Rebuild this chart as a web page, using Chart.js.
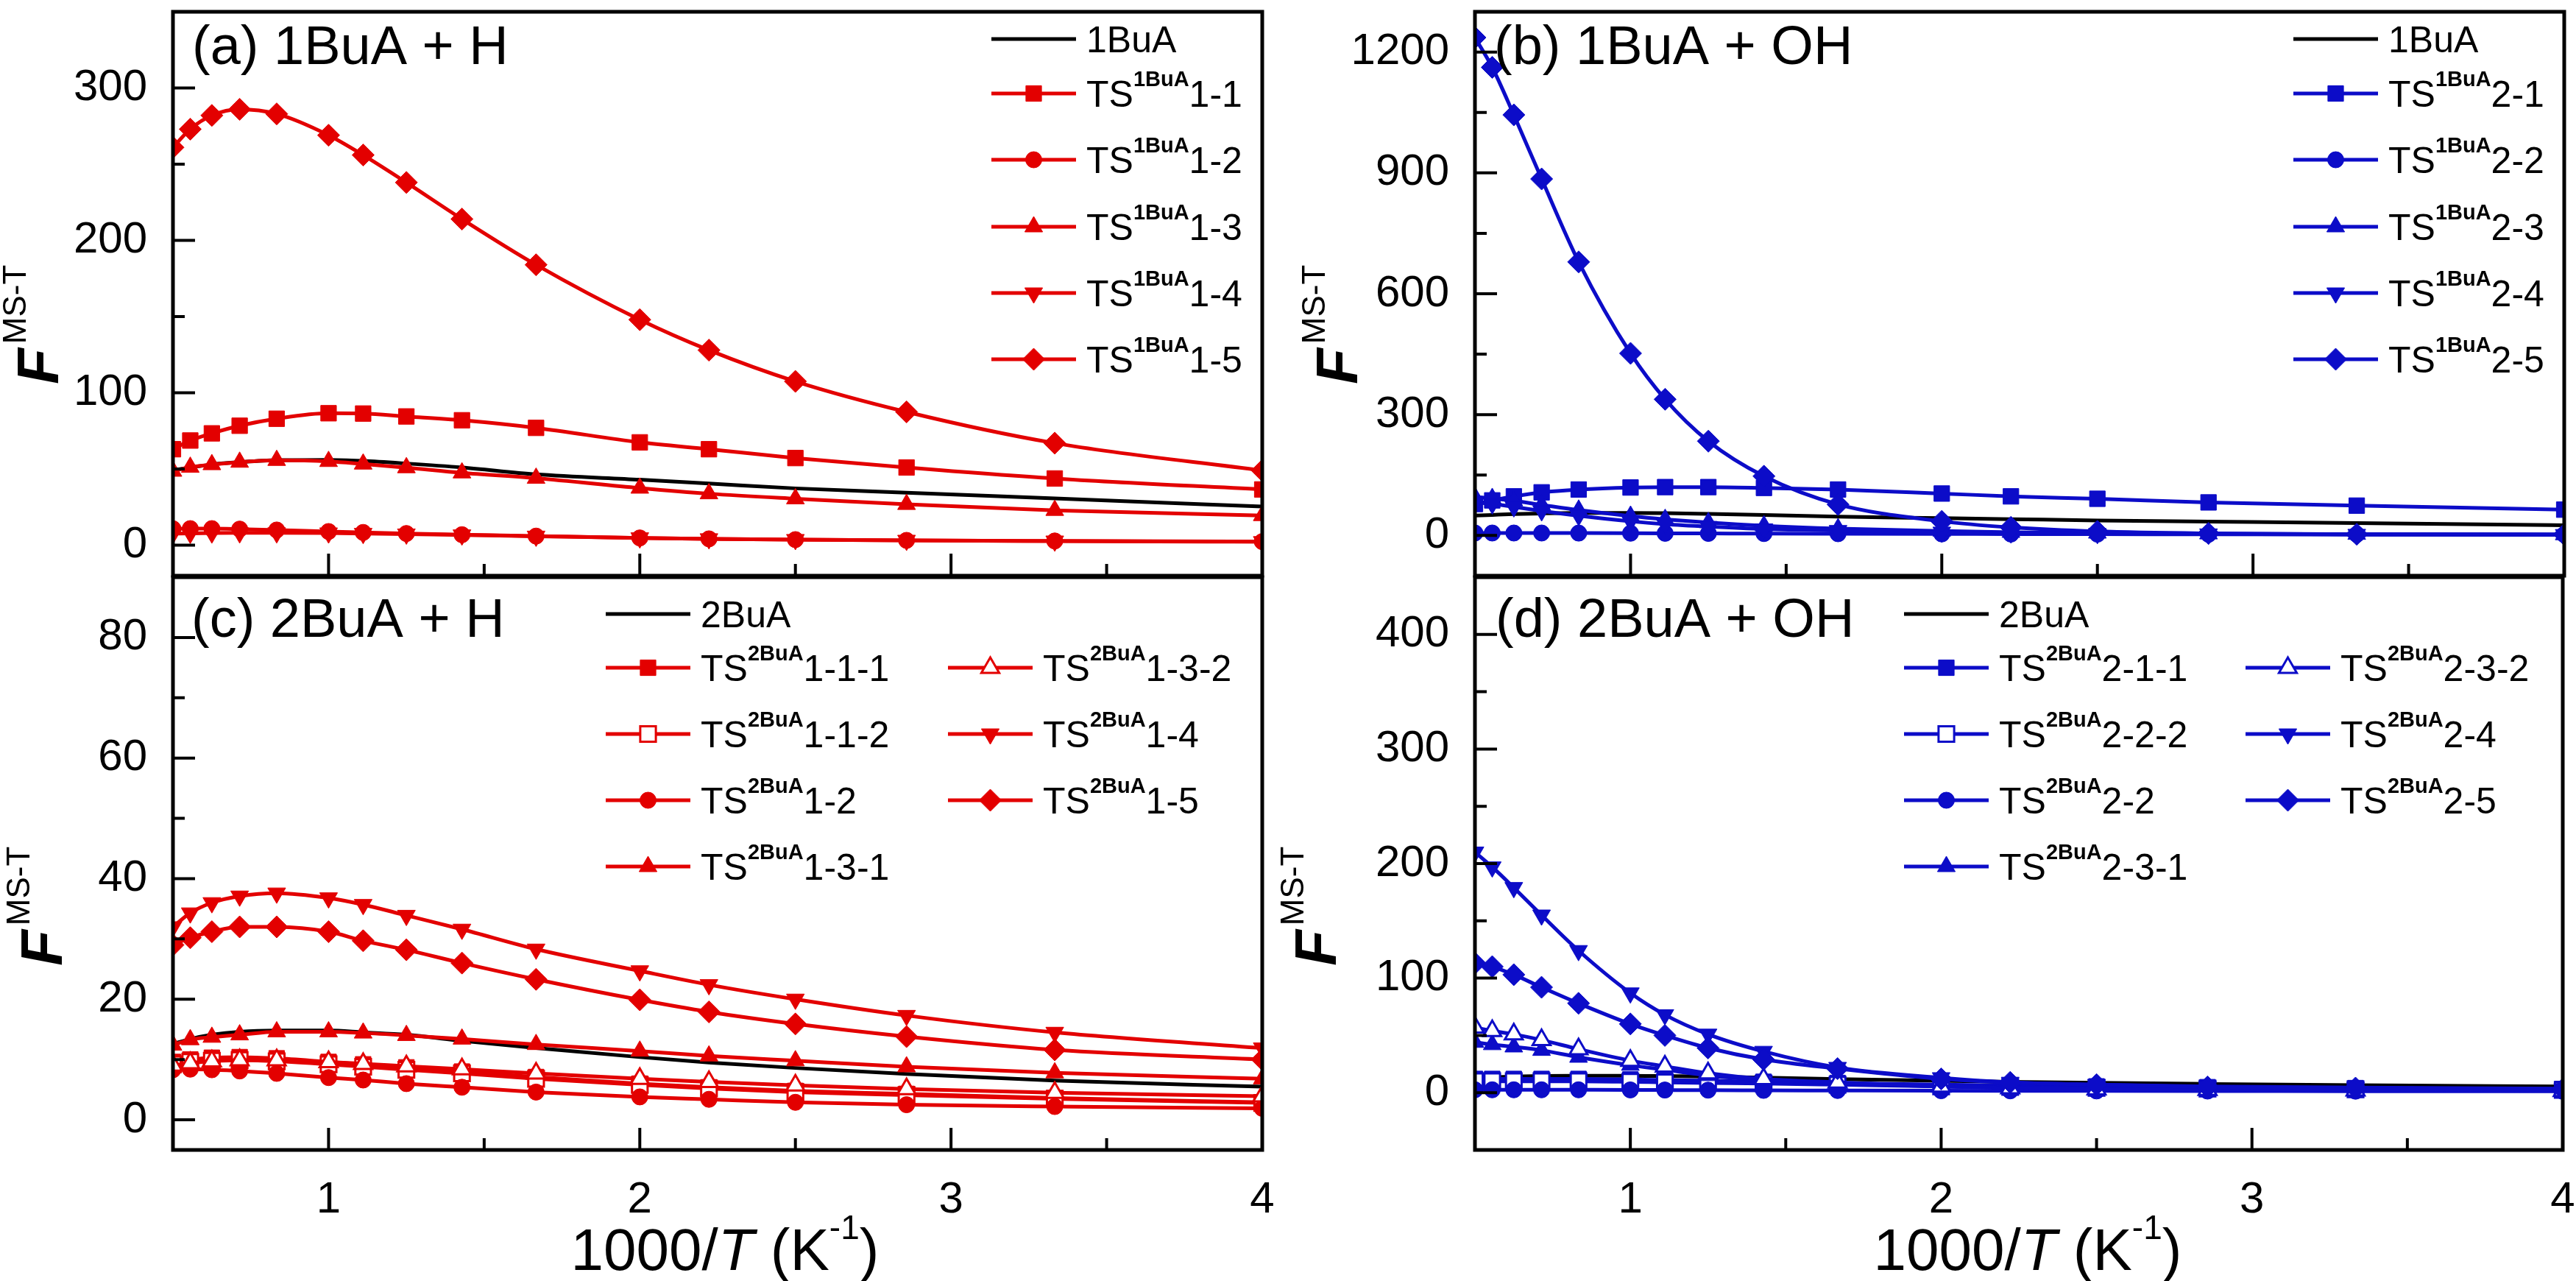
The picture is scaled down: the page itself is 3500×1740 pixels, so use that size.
<!DOCTYPE html>
<html>
<head>
<meta charset="utf-8">
<title>F MS-T panels</title>
<script src="https://cdn.jsdelivr.net/npm/chart.js@4.4.1/dist/chart.umd.min.js"></script>
<style>
  html, body { margin: 0; padding: 0; background: #ffffff; }
  body { width: 3500px; height: 1740px; position: relative; overflow: hidden; }
  canvas { position: absolute; left: 0; top: 0; }
</style>
</head>
<body>
<canvas id="pa" width="3500" height="1740"></canvas>
<canvas id="pb" width="3500" height="1740"></canvas>
<canvas id="pc" width="3500" height="1740"></canvas>
<canvas id="pd" width="3500" height="1740"></canvas>
<script>
// ================= DATA =================
const xValues = [0.5, 0.5556, 0.625, 0.7143, 0.8333, 1.0, 1.1111, 1.25, 1.4286, 1.6667, 2.0, 2.2222, 2.5, 2.8571, 3.3333, 4.0];
const xTicks = [1, 2, 3, 4];
const xTickLabels = ['1', '2', '3', '4'];
const xMinorTicks = [1.5, 2.5, 3.5];

const aYTicks = [0, 100, 200, 300];
const aYTickLabels = ['0', '100', '200', '300'];
const aYMinor = [50, 150, 250];
const bYTicks = [0, 300, 600, 900, 1200];
const bYTickLabels = ['0', '300', '600', '900', '1200'];
const bYMinor = [150, 450, 750, 1050];
const cYTicks = [0, 20, 40, 60, 80];
const cYTickLabels = ['0', '20', '40', '60', '80'];
const cYMinor = [10, 30, 50, 70];
const dYTicks = [0, 100, 200, 300, 400];
const dYTickLabels = ['0', '100', '200', '300', '400'];
const dYMinor = [50, 150, 250, 350];

// reactants (same in both panels of a row)
const ref1BuA = [49.3, 51, 53, 54.5, 55.8, 56, 55.3, 53.6, 51, 46.5, 43, 40.5, 37.3, 34.5, 30.7, 25.4];
const ref2BuA = [12.6, 13.4, 14.1, 14.6, 14.8, 14.8, 14.5, 14.1, 13.1, 11.9, 10.4, 9.5, 8.6, 7.6, 6.5, 5.5];

// (a) 1BuA + H
const a_TS1_1 = [63, 68.7, 73.4, 78.4, 83, 86.6, 86.4, 84.5, 82, 77, 67.5, 63, 57.2, 51, 43.8, 36.6];
const a_TS1_2 = [10.8, 10.9, 10.9, 10.6, 10.0, 9.0, 8.4, 7.7, 6.9, 6.0, 4.8, 4.2, 3.7, 3.2, 2.8, 2.4];
const a_TS1_3 = [48.6, 51.2, 52.9, 54.5, 55.7, 55, 53.3, 50.9, 47.5, 44, 37.5, 33.8, 30.5, 26.8, 22.9, 19.5];
const a_TS1_4 = [7.6, 7.8, 8.0, 8.1, 8.1, 8.0, 7.7, 7.3, 6.7, 5.9, 4.8, 4.2, 3.7, 3.2, 2.7, 2.3];
const a_TS1_5 = [261, 273, 282, 286, 283, 269, 256, 238, 214, 184, 148, 128, 107.5, 87.5, 67, 49];

// (b) 1BuA + OH
const b_TS2_1 = [78, 87, 97, 107, 114, 119, 120, 120, 118, 114, 104, 97, 91, 82, 74, 64];
const b_TS2_2 = [6, 6, 6, 6, 5.8, 5.5, 5.3, 5, 4.6, 4.2, 3.7, 3.4, 3.1, 2.8, 2.5, 2.1];
const b_TS2_3 = [95, 92, 86, 76, 63, 48, 40, 32, 24, 17, 11, 8, 6, 4, 3, 2];
const b_TS2_4 = [82, 78, 71, 61, 49, 35, 28, 22, 16, 12, 8, 6, 4.5, 3.5, 2.5, 2];
const b_TS2_5 = [1236, 1162, 1044, 885, 679, 452, 338, 234, 147, 77, 35, 20, 10, 5, 3, 2.5];

// (c) 2BuA + H
const c_TS1_1_1 = [9.6, 10.0, 10.3, 10.4, 10.2, 9.6, 9.2, 8.7, 8.0, 7.1, 6.0, 5.4, 4.8, 4.3, 3.6, 2.9];
const c_TS1_1_2 = [9.2, 9.6, 9.8, 9.9, 9.7, 9.2, 8.8, 8.3, 7.7, 6.8, 5.8, 5.2, 4.6, 4.1, 3.5, 2.8];
const c_TS1_2 = [8.3, 8.4, 8.3, 8.1, 7.7, 7.0, 6.6, 6.0, 5.4, 4.6, 3.8, 3.4, 2.9, 2.5, 2.2, 1.9];
const c_TS1_3_1 = [12.4, 13.3, 13.7, 14.1, 14.6, 14.6, 14.4, 14.0, 13.4, 12.5, 11.4, 10.6, 9.8, 8.8, 7.8, 6.8];
const c_TS1_3_2 = [9.0, 9.4, 9.7, 9.9, 9.9, 9.6, 9.3, 8.9, 8.4, 7.7, 6.8, 6.3, 5.7, 5.1, 4.5, 3.9];
const c_TS1_4 = [32, 34.3, 36, 37.1, 37.6, 36.8, 35.7, 33.9, 31.6, 28.3, 24.7, 22.4, 20, 17.3, 14.5, 11.9];
const c_TS1_5 = [29, 30.2, 31.2, 32, 32, 31.2, 29.7, 28.2, 26, 23.3, 19.9, 17.9, 15.9, 13.8, 11.6, 10.0];

// (d) 2BuA + OH
const d_TS2_1_1 = [12, 12, 12, 12, 12, 11.5, 11, 10.5, 9.5, 8.5, 7, 6.3, 5.5, 4.8, 4, 3.2];
const d_TS2_2_2 = [10, 10, 10, 10, 10, 9.5, 9, 8.5, 8, 7, 5.5, 5, 4.2, 3.6, 3, 2.4];
const d_TS2_2 = [2.5, 2.5, 2.5, 2.5, 2.5, 2.4, 2.3, 2.2, 2.0, 1.9, 1.7, 1.6, 1.5, 1.4, 1.3, 1.2];
const d_TS2_3_1 = [44, 42, 40, 37, 31, 24, 20, 15, 11, 8, 5.5, 4.5, 3.5, 3, 2.5, 2];
const d_TS2_3_2 = [57, 54, 51, 46, 38, 28, 23, 17, 12, 9, 5.5, 4, 3, 2.5, 2, 1.5];
const d_TS2_4 = [210, 197, 179, 155, 124, 87, 68, 51, 36, 22, 13, 9, 7, 5.5, 4.5, 3.5];
const d_TS2_5 = [113, 110, 103, 92, 78, 60, 50, 39, 29, 21, 12, 9, 7, 5, 4, 3];

// ================= STYLE =================
const FAM = '"Liberation Sans", Arial, Helvetica, sans-serif';
const RED = '#E30000';
const BLUE = '#0C0CC8';
const BLACK = '#000000';
const LINE_W = 5;
const MK = {
  none:    { pointStyle: false, radius: 0, rotation: 0 },
  square:  { pointStyle: 'rect', radius: 15, rotation: 0 },
  circle:  { pointStyle: 'circle', radius: 11, rotation: 0 },
  up:      { pointStyle: 'triangle', radius: 14, rotation: 0 },
  down:    { pointStyle: 'triangle', radius: 14, rotation: 180 },
  diamond: { pointStyle: 'rectRot', radius: 15, rotation: 0 }
};
const YW = 200, XH = 150;

function f(size, style) { return (style || '') + ' ' + size + 'px ' + FAM; }

function drawRich(ctx, x, y, parts) {
  let cx = x;
  for (const p of parts) {
    ctx.font = p.font;
    ctx.fillText(p.text, cx, y + (p.dy || 0));
    cx += ctx.measureText(p.text).width + (p.gap || 0);
  }
  return cx - x;
}
function richWidth(ctx, parts) {
  let w = 0;
  for (const p of parts) { ctx.font = p.font; w += ctx.measureText(p.text).width + (p.gap || 0); }
  return w;
}
function legendParts(item) {
  if (!item.sup) return [{ text: item.pre, font: f(50) }];
  return [
    { text: item.pre, font: f(50) },
    { text: item.sup, font: f(29, 'bold'), dy: -28 },
    { text: item.post, font: f(50) }
  ];
}
function markerDraw(ctx, mk, color, open, x, y) {
  if (!mk.pointStyle) return;
  ctx.save();
  ctx.fillStyle = open ? '#ffffff' : color;
  ctx.strokeStyle = color;
  ctx.lineWidth = open ? 3 : 1;
  Chart.helpers.drawPoint(ctx, { pointStyle: mk.pointStyle, radius: mk.radius, rotation: mk.rotation, borderWidth: open ? 3 : 1 }, x, y);
  ctx.restore();
}

const decorPlugin = {
  id: 'decor',
  afterDraw(chart) {
    const p = chart.options.plugins.decor;
    const { ctx, chartArea: ca } = chart;
    const xs = chart.scales.x, ys = chart.scales.y;
    ctx.save();
    // inward ticks
    ctx.strokeStyle = BLACK;
    ctx.lineWidth = 4;
    ctx.beginPath();
    xTicks.forEach(v => { const px = xs.getPixelForValue(v); ctx.moveTo(px, ca.bottom); ctx.lineTo(px, ca.bottom - 30); });
    xMinorTicks.forEach(v => { const px = xs.getPixelForValue(v); ctx.moveTo(px, ca.bottom); ctx.lineTo(px, ca.bottom - 16); });
    p.yMajor.forEach(v => { const py = ys.getPixelForValue(v); ctx.moveTo(ca.left, py); ctx.lineTo(ca.left + 30, py); });
    p.yMinor.forEach(v => { const py = ys.getPixelForValue(v); ctx.moveTo(ca.left, py); ctx.lineTo(ca.left + 16, py); });
    ctx.stroke();
    // frame
    ctx.lineWidth = 5;
    ctx.strokeRect(ca.left, ca.top, ca.right - ca.left, ca.bottom - ca.top);

    ctx.fillStyle = BLACK;
    ctx.textBaseline = 'alphabetic';
    ctx.textAlign = 'left';
    // panel label
    ctx.font = f(74);
    ctx.fillText(p.title, p.titleX, p.titleY);

    // y title: F^{MS-T} rotated
    ctx.save();
    ctx.translate(p.yTitleX, p.yTitleY);
    ctx.rotate(-Math.PI / 2);
    drawRich(ctx, 0, 0, [
      { text: 'F', font: f(80, 'italic bold'), gap: 6 },
      { text: 'MS-T', font: f(44), dy: -44 }
    ]);
    ctx.restore();

    // x title
    if (p.xTitle) {
      const parts = [
        { text: '1000/', font: f(80) },
        { text: 'T', font: f(80, 'italic') },
        { text: ' (K', font: f(80) },
        { text: '-1', font: f(46), dy: -42 },
        { text: ')', font: f(80) }
      ];
      const w = richWidth(ctx, parts);
      drawRich(ctx, p.xTitleCX - w / 2, 1725, parts);
    }

    // legend
    const dsets = chart.data.datasets;
    p.legend.forEach(item => {
      const ds = dsets[item.ds];
      const st = ds._style;
      ctx.strokeStyle = st.color;
      ctx.lineWidth = LINE_W;
      ctx.beginPath();
      ctx.moveTo(item.x, item.y);
      ctx.lineTo(item.x + 115, item.y);
      ctx.stroke();
      markerDraw(ctx, st.mk, st.color, st.open, item.x + 57.5, item.y);
      ctx.fillStyle = BLACK;
      drawRich(ctx, item.x + 129, item.y + 18, legendParts(item));
    });
    ctx.restore();
  }
};

function makePanel(id, rect, yMin, yMax, yTicks, yLabels, yMinor, showX, series, decor) {
  const n = series.length;
  const datasets = series.map((s, i) => ({
    label: s.name,
    data: xValues.map((x, k) => ({ x: x, y: s.values[k] })),
    _style: s,
    order: n - i,
    borderColor: s.color,
    backgroundColor: s.color,
    borderWidth: LINE_W,
    pointStyle: s.mk.pointStyle,
    pointRadius: s.mk.radius,
    pointRotation: s.mk.rotation,
    pointBackgroundColor: s.open ? '#ffffff' : s.color,
    pointBorderColor: s.color,
    pointBorderWidth: s.open ? 3 : 1,
    cubicInterpolationMode: 'monotone',
    fill: false,
    clip: 0
  }));
  decor.yMajor = yTicks;
  decor.yMinor = yMinor;
  return new Chart(document.getElementById(id), {
    type: 'line',
    data: { datasets },
    plugins: [decorPlugin],
    options: {
      responsive: false,
      maintainAspectRatio: false,
      devicePixelRatio: 1,
      animation: false,
      events: [],
      layout: { padding: { left: rect.l - YW, right: 3500 - rect.r, top: rect.t, bottom: 1740 - rect.b - XH } },
      plugins: { legend: { display: false }, tooltip: { enabled: false }, decor: decor },
      scales: {
        x: {
          type: 'linear', min: 0.5, max: 4, position: 'bottom',
          afterBuildTicks: s => { s.ticks = xTicks.map(v => ({ value: v })); },
          afterFit: s => { s.height = XH; s.paddingLeft = 0; s.paddingRight = 0; },
          grid: { display: false, drawTicks: false },
          border: { display: false },
          ticks: {
            display: showX, autoSkip: false, maxRotation: 0, padding: 32, color: BLACK,
            font: { family: FAM, size: 60 },
            callback: (v, i) => xTickLabels[i]
          }
        },
        y: {
          type: 'linear', min: yMin, max: yMax, position: 'left',
          afterBuildTicks: s => { s.ticks = yTicks.map(v => ({ value: v })); },
          afterFit: s => { s.width = YW; s.paddingTop = 0; s.paddingBottom = 0; },
          grid: { display: false, drawTicks: false },
          border: { display: false },
          ticks: {
            autoSkip: false, padding: 35, color: BLACK,
            font: { family: FAM, size: 60 },
            callback: (v, i) => yLabels[i]
          }
        }
      }
    }
  });
}

const RA = { l: 235, t: 5, r: 1715, b: 782 };
const RB = { l: 2004, t: 5, r: 3485, b: 782 };
const RC = { l: 235, t: 784, r: 1715, b: 1562 };
const RD = { l: 2004, t: 784, r: 3485, b: 1562 };
const rowsTop = [53, 127, 217, 308, 398, 488];

// (a)
makePanel('pa', RA, -20, 350, aYTicks, aYTickLabels, aYMinor, false, [
  { name: '1BuA', values: ref1BuA, color: BLACK, mk: MK.none },
  { name: 'TS1-1', values: a_TS1_1, color: RED, mk: MK.square },
  { name: 'TS1-2', values: a_TS1_2, color: RED, mk: MK.circle },
  { name: 'TS1-3', values: a_TS1_3, color: RED, mk: MK.up },
  { name: 'TS1-4', values: a_TS1_4, color: RED, mk: MK.down },
  { name: 'TS1-5', values: a_TS1_5, color: RED, mk: MK.diamond }
], {
  title: '(a) 1BuA + H', titleX: 261, titleY: 87,
  yTitleX: 79, yTitleY: 522, xTitle: false,
  legend: [
    { ds: 0, x: 1347, y: rowsTop[0], pre: '1BuA' },
    { ds: 1, x: 1347, y: rowsTop[1], pre: 'TS', sup: '1BuA', post: '1-1' },
    { ds: 2, x: 1347, y: rowsTop[2], pre: 'TS', sup: '1BuA', post: '1-2' },
    { ds: 3, x: 1347, y: rowsTop[3], pre: 'TS', sup: '1BuA', post: '1-3' },
    { ds: 4, x: 1347, y: rowsTop[4], pre: 'TS', sup: '1BuA', post: '1-4' },
    { ds: 5, x: 1347, y: rowsTop[5], pre: 'TS', sup: '1BuA', post: '1-5' }
  ]
});

// (b)
makePanel('pb', RB, -100, 1300, bYTicks, bYTickLabels, bYMinor, false, [
  { name: '1BuA', values: ref1BuA, color: BLACK, mk: MK.none },
  { name: 'TS2-1', values: b_TS2_1, color: BLUE, mk: MK.square },
  { name: 'TS2-2', values: b_TS2_2, color: BLUE, mk: MK.circle },
  { name: 'TS2-3', values: b_TS2_3, color: BLUE, mk: MK.up },
  { name: 'TS2-4', values: b_TS2_4, color: BLUE, mk: MK.down },
  { name: 'TS2-5', values: b_TS2_5, color: BLUE, mk: MK.diamond }
], {
  title: '(b) 1BuA + OH', titleX: 2030, titleY: 87,
  yTitleX: 1844, yTitleY: 522, xTitle: false,
  legend: [
    { ds: 0, x: 3116, y: rowsTop[0], pre: '1BuA' },
    { ds: 1, x: 3116, y: rowsTop[1], pre: 'TS', sup: '1BuA', post: '2-1' },
    { ds: 2, x: 3116, y: rowsTop[2], pre: 'TS', sup: '1BuA', post: '2-2' },
    { ds: 3, x: 3116, y: rowsTop[3], pre: 'TS', sup: '1BuA', post: '2-3' },
    { ds: 4, x: 3116, y: rowsTop[4], pre: 'TS', sup: '1BuA', post: '2-4' },
    { ds: 5, x: 3116, y: rowsTop[5], pre: 'TS', sup: '1BuA', post: '2-5' }
  ]
});

// (c)
makePanel('pc', RC, -5, 90, cYTicks, cYTickLabels, cYMinor, true, [
  { name: '2BuA', values: ref2BuA, color: BLACK, mk: MK.none },
  { name: 'TS1-1-1', values: c_TS1_1_1, color: RED, mk: MK.square },
  { name: 'TS1-1-2', values: c_TS1_1_2, color: RED, mk: MK.square, open: true },
  { name: 'TS1-2', values: c_TS1_2, color: RED, mk: MK.circle },
  { name: 'TS1-3-1', values: c_TS1_3_1, color: RED, mk: MK.up },
  { name: 'TS1-3-2', values: c_TS1_3_2, color: RED, mk: MK.up, open: true },
  { name: 'TS1-4', values: c_TS1_4, color: RED, mk: MK.down },
  { name: 'TS1-5', values: c_TS1_5, color: RED, mk: MK.diamond }
], {
  title: '(c) 2BuA + H', titleX: 260, titleY: 865,
  yTitleX: 84, yTitleY: 1312, xTitle: true, xTitleCX: 985,
  legend: [
    { ds: 0, x: 823, y: 834, pre: '2BuA' },
    { ds: 1, x: 823, y: 907, pre: 'TS', sup: '2BuA', post: '1-1-1' },
    { ds: 2, x: 823, y: 997, pre: 'TS', sup: '2BuA', post: '1-1-2' },
    { ds: 3, x: 823, y: 1087, pre: 'TS', sup: '2BuA', post: '1-2' },
    { ds: 4, x: 823, y: 1177, pre: 'TS', sup: '2BuA', post: '1-3-1' },
    { ds: 5, x: 1288, y: 907, pre: 'TS', sup: '2BuA', post: '1-3-2' },
    { ds: 6, x: 1288, y: 997, pre: 'TS', sup: '2BuA', post: '1-4' },
    { ds: 7, x: 1288, y: 1087, pre: 'TS', sup: '2BuA', post: '1-5' }
  ]
});

// (d)
makePanel('pd', RD, -50, 450, dYTicks, dYTickLabels, dYMinor, true, [
  { name: '2BuA', values: ref2BuA, color: BLACK, mk: MK.none },
  { name: 'TS2-1-1', values: d_TS2_1_1, color: BLUE, mk: MK.square },
  { name: 'TS2-2-2', values: d_TS2_2_2, color: BLUE, mk: MK.square, open: true },
  { name: 'TS2-2', values: d_TS2_2, color: BLUE, mk: MK.circle },
  { name: 'TS2-3-1', values: d_TS2_3_1, color: BLUE, mk: MK.up },
  { name: 'TS2-3-2', values: d_TS2_3_2, color: BLUE, mk: MK.up, open: true },
  { name: 'TS2-4', values: d_TS2_4, color: BLUE, mk: MK.down },
  { name: 'TS2-5', values: d_TS2_5, color: BLUE, mk: MK.diamond }
], {
  title: '(d) 2BuA + OH', titleX: 2032, titleY: 865,
  yTitleX: 1815, yTitleY: 1312, xTitle: true, xTitleCX: 2755,
  legend: [
    { ds: 0, x: 2587, y: 834, pre: '2BuA' },
    { ds: 1, x: 2587, y: 907, pre: 'TS', sup: '2BuA', post: '2-1-1' },
    { ds: 2, x: 2587, y: 997, pre: 'TS', sup: '2BuA', post: '2-2-2' },
    { ds: 3, x: 2587, y: 1087, pre: 'TS', sup: '2BuA', post: '2-2' },
    { ds: 4, x: 2587, y: 1177, pre: 'TS', sup: '2BuA', post: '2-3-1' },
    { ds: 5, x: 3051, y: 907, pre: 'TS', sup: '2BuA', post: '2-3-2' },
    { ds: 6, x: 3051, y: 997, pre: 'TS', sup: '2BuA', post: '2-4' },
    { ds: 7, x: 3051, y: 1087, pre: 'TS', sup: '2BuA', post: '2-5' }
  ]
});
</script>
</body>
</html>
